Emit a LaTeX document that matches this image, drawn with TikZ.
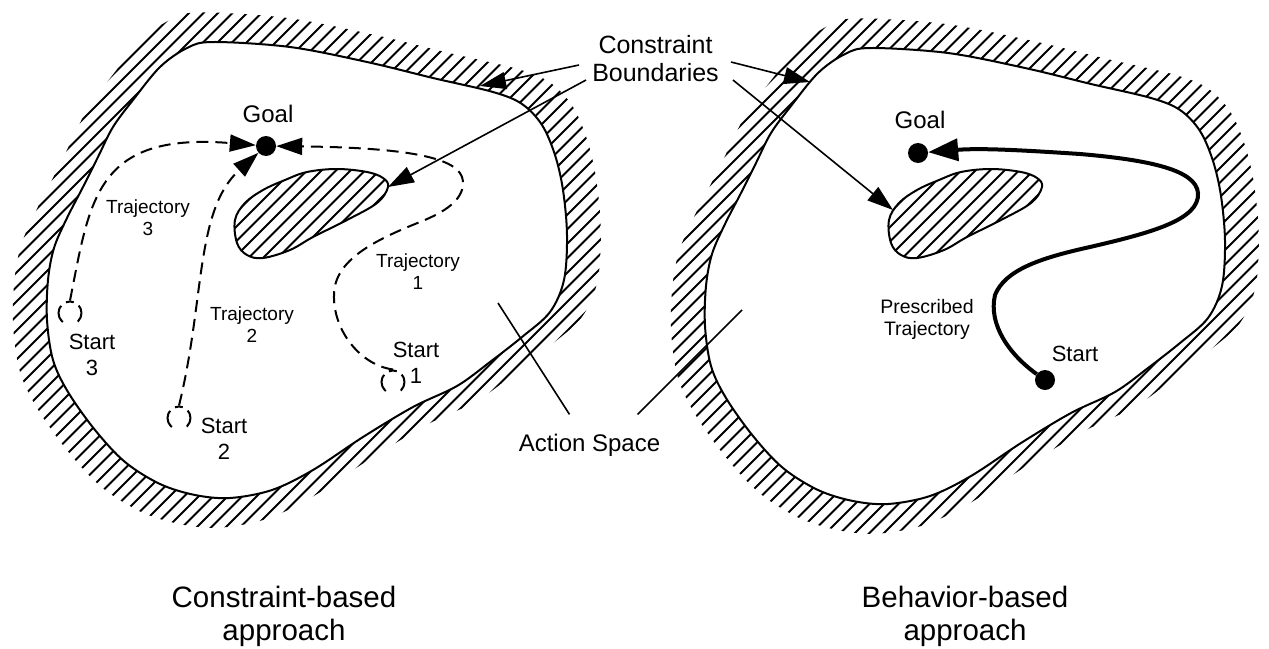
\documentclass[tikz,border=0pt]{standalone}
\usepackage{fontspec}
\setmainfont{Liberation Sans}
\usetikzlibrary{arrows.meta,calc}

% outline of the action space (left panel coordinates)
\newcommand\rimpath{plot[smooth cycle, tension=0.55] coordinates {
  (213,42) (290,47) (367,62) (433,78) (493,92) (522,104) (542,125) (555,155)
  (563,190) (567,235) (564,280) (550,312) (522,337) (490,362) (457,386)
  (413,407) (363,437) (313,470) (272,490) (230,498) (195,495) (160,484)
  (125,462) (95,430) (68,392) (53,360) (47,320) (48,280) (54,248) (67,218)
  (83,187) (98,157) (113,127) (133,100) (160,67) (187,48)}}
% outline of the obstacle
\newcommand\obstpath{plot[smooth cycle, tension=0.6] coordinates {
  (235,220) (245,203) (263,190) (285,180) (307,172) (337,169) (367,172)
  (383,178) (388,187) (377,203) (347,220) (313,237) (290,250) (263,258)
  (247,255) (237,243)}}
% parallel 45-degree hatching, to be clipped
\newcommand\hatchlines{\foreach \k in {0,...,86} {\draw[hatchline] ({-690+14.5*\k},660) -- ++(720,-720);}}

\begin{document}
\begin{tikzpicture}[x=1pt,y=-1pt,
  rim/.style={line width=2pt, line join=round},
  hatchline/.style={line width=1.8pt},
  traj/.style={line width=2pt, dash pattern=on 12pt off 7pt},
  arrowtip/.style={-{Triangle[length=26pt,width=17pt]}},
  bigtip/.style={-{Triangle[length=30pt,width=22pt]}},
  leader/.style={line width=1.6pt},
  goaldot/.style={circle, fill=black, inner sep=0pt, minimum size=20pt},
  ring/.style={circle, draw, line width=2pt, inner sep=0pt, minimum size=23pt,
    dash pattern=on 18.1pt off 6pt on 8pt off 6pt on 18.1pt off 16pt,
    dash phase=10pt},
  lbl/.style={align=center, inner sep=0pt},
]
\useasboundingbox (0,0) rectangle (1269,648);

% ---------- left panel: constraint-based ----------
\begin{scope}
  \clip[scale around={1.13:(307,270)}] \rimpath;
  \hatchlines
\end{scope}
\draw[rim, fill=white] \rimpath;
\begin{scope}
  \clip \obstpath;
  \hatchlines
\end{scope}
\draw[rim] \obstpath;

\node[goaldot] (g1) at (266,146) {};
\node[lbl, anchor=base, font=\fontsize{24}{28}\selectfont] (g1t) at (268,122) {Goal};

\node[ring] (s1) at (393,382) {};
\node[ring] (s2) at (179,418) {};
\node[ring] (s3) at (70,313) {};

\draw[traj, arrowtip] (s3.north) .. controls (90,200) and (95,132) .. (g1);
\draw[traj, arrowtip] (s2.north) .. controls (205,300) and (195,210) .. (g1);
\draw[traj, arrowtip] (s1.north) .. controls (360,365) and (333,330) .. (334,295)
  .. controls (334,260) and (375,240) .. (420,222)
  .. controls (445,212) and (463,200) .. (463,183)
  .. controls (463,165) and (440,148) .. (g1);

\begin{scope}[font=\fontsize{19}{22}\selectfont]
  \node[lbl] (t3) at (148,218) {Trajectory\\3};
  \node[lbl] (t2) at (252,325) {Trajectory\\2};
  \node[lbl] (t1) at (418,272) {Trajectory\\1};
\end{scope}
\begin{scope}[font=\fontsize{22}{26}\selectfont]
  \node[lbl] (st3) at (92,355) {Start\\3};
  \node[lbl] (st2) at (224,439) {Start\\2};
  \node[lbl] (st1) at (416,363) {Start\\1};
\end{scope}

% ---------- right panel: behavior-based ----------
\begin{scope}[shift={(658,6)}]
  \begin{scope}
    \clip[scale around={1.13:(307,270)}] \rimpath;
    \hatchlines
  \end{scope}
  \draw[rim, fill=white] \rimpath;
\end{scope}
\begin{scope}[shift={(654,0)}]
  \begin{scope}
    \clip \obstpath;
    \hatchlines
  \end{scope}
  \draw[rim] \obstpath;
\end{scope}

\node[goaldot] (g2) at (918,153) {};
\node[lbl, anchor=base, font=\fontsize{24}{28}\selectfont] (g2t) at (920,128) {Goal};
\node[goaldot] (sr) at (1045,380) {};
\node[lbl, anchor=base, font=\fontsize{22}{26}\selectfont] (srt) at (1075,361) {Start};
\node[lbl, font=\fontsize{19.5}{22}\selectfont] (pt) at (927,319) {Prescribed\\Trajectory};

\draw[line width=4pt, bigtip] (sr) .. controls (1010,355) and (988,325) .. (995,295)
  .. controls (1005,270) and (1040,258) .. (1090,247)
  .. controls (1150,233) and (1200,220) .. (1198,193)
  .. controls (1196,170) and (1150,160) .. (1080,154)
  .. controls (1020,150) and (980,148) .. (g2);

% ---------- shared labels ----------
\node[lbl, font=\fontsize{25}{28}\selectfont] (cb) at (655.5,59) {Constraint\\Boundaries};
\coordinate (lrim) at (480,86);
\coordinate (lobst) at (388,187);
\coordinate (rrim) at (810,82);
\coordinate (robst) at (893,210);
\draw[leader, arrowtip] ([shift={(-13,6)}]cb.west) -- (lrim);
\draw[leader, arrowtip] ([shift={(-6,21)}]cb.west) -- (lobst);
\draw[leader, arrowtip] ([shift={(12,3)}]cb.east) -- (rrim);
\draw[leader, arrowtip] ([shift={(14,21)}]cb.east) -- (robst);

\node[lbl, anchor=base, font=\fontsize{24}{28}\selectfont] (as) at (589.5,451) {Action Space};
\coordinate (asl) at (498,303);
\coordinate (asr) at (742,310);
\draw[leader] ([shift={(-20,-19)}]as.north) -- (asl);
\draw[leader] ([shift={(48,-19)}]as.north) -- (asr);

\begin{scope}[font=\fontsize{29.5}{33}\selectfont]
  \node[lbl] (lt) at (284,616) {Constraint-based\\approach};
  \node[lbl] (rt) at (965,616) {Behavior-based\\approach};
\end{scope}
\end{tikzpicture}
\end{document}
